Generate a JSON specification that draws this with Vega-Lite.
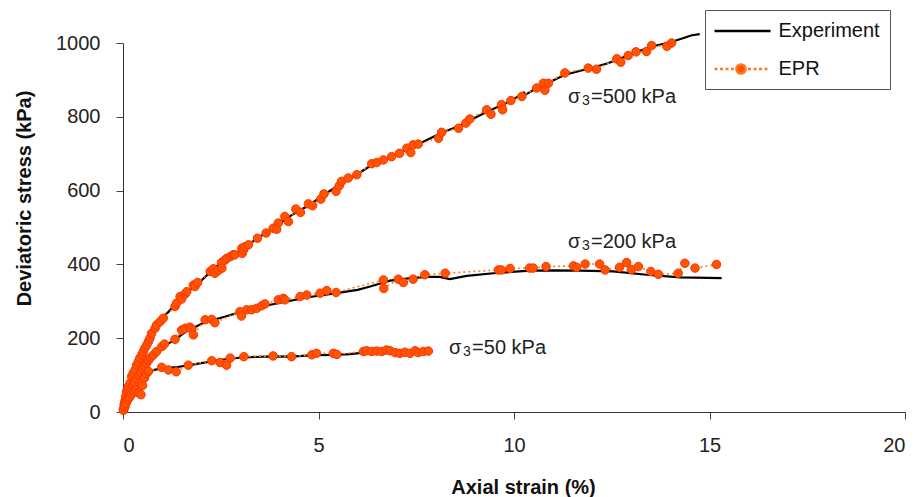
{
  "$schema": "https://vega.github.io/schema/vega-lite/v6.json",
  "width": 782,
  "height": 369,
  "autosize": {"type": "none"},
  "padding": {"left": 123, "top": 43, "right": 14, "bottom": 85},
  "background": "white",
  "config": {
    "view": {"stroke": null},
    "font": "Liberation Sans",
    "axis": {"grid": false, "domainColor": "#333", "tickColor": "#444", "labelColor": "#222", "titleColor": "#111", "labelFont": "Liberation Sans", "titleFont": "Liberation Sans"},
    "legend": {"orient": "none", "strokeColor": "#555", "fillColor": "white", "padding": 9.5, "labelFontSize": 20, "labelFont": "Liberation Sans", "labelColor": "#111", "labelOffset": 41, "symbolSize": 400, "symbolStrokeWidth": 2.5, "symbolOpacity": 1, "rowPadding": 16, "labelExpr": "datum.label + '\u2800\u2800\u2800\u2800'"}
  },
  "datasets": {
    "exp": [
      {"c":"500","x":0,"y":0},{"c":"500","x":0.05,"y":20},{"c":"500","x":0.1,"y":42},{"c":"500","x":0.15,"y":62},{"c":"500","x":0.2,"y":82},{"c":"500","x":0.25,"y":100},{"c":"500","x":0.3,"y":116},{"c":"500","x":0.35,"y":130},{"c":"500","x":0.4,"y":143},{"c":"500","x":0.45,"y":155},{"c":"500","x":0.5,"y":166},{"c":"500","x":0.6,"y":185},{"c":"500","x":0.7,"y":205},{"c":"500","x":0.8,"y":226},{"c":"500","x":0.9,"y":242},{"c":"500","x":1.0,"y":254},{"c":"500","x":1.15,"y":270},{"c":"500","x":1.33,"y":290},{"c":"500","x":1.5,"y":308},{"c":"500","x":1.6,"y":322},{"c":"500","x":1.9,"y":346},{"c":"500","x":2.3,"y":386},{"c":"500","x":2.6,"y":412},{"c":"500","x":2.85,"y":428},{"c":"500","x":3.1,"y":446},{"c":"500","x":3.4,"y":468},{"c":"500","x":3.9,"y":503},{"c":"500","x":4.35,"y":536},{"c":"500","x":4.8,"y":563},{"c":"500","x":5.1,"y":586},{"c":"500","x":5.6,"y":620},{"c":"500","x":6.0,"y":645},{"c":"500","x":6.4,"y":672},{"c":"500","x":6.8,"y":690},{"c":"500","x":7.3,"y":713},{"c":"500","x":7.6,"y":728},{"c":"500","x":8.15,"y":757},{"c":"500","x":8.6,"y":775},{"c":"500","x":8.9,"y":792},{"c":"500","x":9.3,"y":813},{"c":"500","x":9.9,"y":842},{"c":"500","x":10.15,"y":858},{"c":"500","x":10.25,"y":866},{"c":"500","x":10.3,"y":860},{"c":"500","x":10.5,"y":873},{"c":"500","x":10.84,"y":890},{"c":"500","x":11.3,"y":914},{"c":"500","x":12.0,"y":933},{"c":"500","x":12.4,"y":945},{"c":"500","x":12.7,"y":957},{"c":"500","x":13.1,"y":974},{"c":"500","x":13.5,"y":990},{"c":"500","x":14.0,"y":1002},{"c":"500","x":14.3,"y":1012},{"c":"500","x":14.55,"y":1021},{"c":"500","x":14.75,"y":1024},
      {"c":"200","x":0,"y":0},{"c":"200","x":0.05,"y":15},{"c":"200","x":0.1,"y":30},{"c":"200","x":0.2,"y":58},{"c":"200","x":0.3,"y":80},{"c":"200","x":0.4,"y":100},{"c":"200","x":0.5,"y":116},{"c":"200","x":0.6,"y":132},{"c":"200","x":0.7,"y":145},{"c":"200","x":0.8,"y":155},{"c":"200","x":1.07,"y":180},{"c":"200","x":1.33,"y":196},{"c":"200","x":1.63,"y":219},{"c":"200","x":2.1,"y":244},{"c":"200","x":2.6,"y":258},{"c":"200","x":3.04,"y":272},{"c":"200","x":3.55,"y":286},{"c":"200","x":4.02,"y":296},{"c":"200","x":4.74,"y":311},{"c":"200","x":5.5,"y":323},{"c":"200","x":6.0,"y":331},{"c":"200","x":6.32,"y":340},{"c":"200","x":6.83,"y":356},{"c":"200","x":7.3,"y":362},{"c":"200","x":7.77,"y":366},{"c":"200","x":8.1,"y":366},{"c":"200","x":8.36,"y":360},{"c":"200","x":8.79,"y":369},{"c":"200","x":9.47,"y":376},{"c":"200","x":10.41,"y":383},{"c":"200","x":11.0,"y":384},{"c":"200","x":11.69,"y":383},{"c":"200","x":12.54,"y":381},{"c":"200","x":13.39,"y":372},{"c":"200","x":14.25,"y":365},{"c":"200","x":15.31,"y":363},
      {"c":"50","x":0,"y":0},{"c":"50","x":0.05,"y":15},{"c":"50","x":0.1,"y":30},{"c":"50","x":0.15,"y":43},{"c":"50","x":0.2,"y":55},{"c":"50","x":0.3,"y":75},{"c":"50","x":0.4,"y":88},{"c":"50","x":0.5,"y":98},{"c":"50","x":0.65,"y":108},{"c":"50","x":0.8,"y":114},{"c":"50","x":1.0,"y":118},{"c":"50","x":1.4,"y":122},{"c":"50","x":1.7,"y":127},{"c":"50","x":2.3,"y":138},{"c":"50","x":2.75,"y":145},{"c":"50","x":3.1,"y":148},{"c":"50","x":3.8,"y":151},{"c":"50","x":4.3,"y":150},{"c":"50","x":4.9,"y":154},{"c":"50","x":5.4,"y":155},{"c":"50","x":5.8,"y":157},{"c":"50","x":6.1,"y":160},{"c":"50","x":6.5,"y":162},{"c":"50","x":7.0,"y":161},{"c":"50","x":7.4,"y":162},{"c":"50","x":7.7,"y":163}
    ],
    "epr": [
      {"c":"500","x":0.01,"y":8},{"c":"500","x":0.03,"y":20},{"c":"500","x":0.05,"y":30},{"c":"500","x":0.07,"y":42},{"c":"500","x":0.09,"y":55},{"c":"500","x":0.12,"y":62},{"c":"500","x":0.14,"y":69},{"c":"500","x":0.18,"y":78},{"c":"500","x":0.22,"y":96},{"c":"500","x":0.26,"y":105},{"c":"500","x":0.31,"y":114},{"c":"500","x":0.35,"y":127},{"c":"500","x":0.39,"y":136},{"c":"500","x":0.43,"y":146},{"c":"500","x":0.48,"y":155},{"c":"500","x":0.52,"y":164},{"c":"500","x":0.56,"y":173},{"c":"500","x":0.61,"y":182},{"c":"500","x":0.65,"y":191},{"c":"500","x":0.69,"y":200},{"c":"500","x":0.73,"y":213},{"c":"500","x":0.82,"y":227},{"c":"500","x":0.86,"y":236},{"c":"500","x":0.95,"y":245},{"c":"500","x":1.03,"y":254},{"c":"500","x":1.33,"y":286},{"c":"500","x":1.37,"y":295},{"c":"500","x":1.46,"y":313},{"c":"500","x":1.5,"y":306},{"c":"500","x":1.59,"y":320},{"c":"500","x":1.63,"y":326},{"c":"500","x":1.8,"y":344},{"c":"500","x":1.84,"y":340},{"c":"500","x":1.91,"y":351},{"c":"500","x":2.23,"y":381},{"c":"500","x":2.31,"y":388},{"c":"500","x":2.35,"y":376},{"c":"500","x":2.44,"y":384},{"c":"500","x":2.52,"y":405},{"c":"500","x":2.53,"y":390},{"c":"500","x":2.61,"y":412},{"c":"500","x":2.65,"y":416},{"c":"500","x":2.74,"y":421},{"c":"500","x":2.82,"y":426},{"c":"500","x":2.86,"y":426},{"c":"500","x":3.04,"y":444},{"c":"500","x":3.05,"y":430},{"c":"500","x":3.08,"y":439},{"c":"500","x":3.12,"y":448},{"c":"500","x":3.21,"y":453},{"c":"500","x":3.44,"y":471},{"c":"500","x":3.66,"y":485},{"c":"500","x":3.84,"y":498},{"c":"500","x":3.93,"y":495},{"c":"500","x":3.97,"y":512},{"c":"500","x":4.14,"y":530},{"c":"500","x":4.23,"y":516},{"c":"500","x":4.42,"y":550},{"c":"500","x":4.54,"y":541},{"c":"500","x":4.74,"y":564},{"c":"500","x":4.85,"y":559},{"c":"500","x":5.06,"y":577},{"c":"500","x":5.14,"y":591},{"c":"500","x":5.45,"y":598},{"c":"500","x":5.53,"y":613},{"c":"500","x":5.59,"y":625},{"c":"500","x":5.76,"y":634},{"c":"500","x":5.98,"y":643},{"c":"500","x":6.36,"y":673},{"c":"500","x":6.49,"y":676},{"c":"500","x":6.66,"y":683},{"c":"500","x":6.87,"y":692},{"c":"500","x":7.07,"y":701},{"c":"500","x":7.26,"y":715},{"c":"500","x":7.36,"y":703},{"c":"500","x":7.42,"y":724},{"c":"500","x":7.55,"y":726},{"c":"500","x":8.07,"y":742},{"c":"500","x":8.15,"y":758},{"c":"500","x":8.58,"y":769},{"c":"500","x":8.77,"y":783},{"c":"500","x":8.87,"y":794},{"c":"500","x":9.3,"y":819},{"c":"500","x":9.41,"y":807},{"c":"500","x":9.68,"y":833},{"c":"500","x":9.71,"y":819},{"c":"500","x":9.92,"y":844},{"c":"500","x":10.2,"y":855},{"c":"500","x":10.58,"y":878},{"c":"500","x":10.75,"y":891},{"c":"500","x":10.79,"y":872},{"c":"500","x":10.88,"y":891},{"c":"500","x":11.3,"y":919},{"c":"500","x":11.9,"y":932},{"c":"500","x":12.11,"y":929},{"c":"500","x":12.63,"y":957},{"c":"500","x":12.73,"y":948},{"c":"500","x":12.92,"y":966},{"c":"500","x":13.12,"y":976},{"c":"500","x":13.39,"y":977},{"c":"500","x":13.52,"y":993},{"c":"500","x":13.91,"y":991},{"c":"500","x":14.03,"y":1000},
      {"c":"200","x":0.02,"y":6},{"c":"200","x":0.05,"y":15},{"c":"200","x":0.1,"y":30},{"c":"200","x":0.15,"y":45},{"c":"200","x":0.2,"y":58},{"c":"200","x":0.25,"y":70},{"c":"200","x":0.3,"y":80},{"c":"200","x":0.35,"y":90},{"c":"200","x":0.4,"y":100},{"c":"200","x":0.45,"y":108},{"c":"200","x":0.5,"y":116},{"c":"200","x":0.55,"y":124},{"c":"200","x":0.6,"y":132},{"c":"200","x":0.65,"y":140},{"c":"200","x":0.7,"y":147},{"c":"200","x":0.78,"y":155},{"c":"200","x":0.86,"y":164},{"c":"200","x":0.99,"y":177},{"c":"200","x":1.06,"y":184},{"c":"200","x":1.33,"y":197},{"c":"200","x":1.5,"y":222},{"c":"200","x":1.59,"y":227},{"c":"200","x":1.71,"y":230},{"c":"200","x":1.76,"y":224},{"c":"200","x":1.8,"y":209},{"c":"200","x":2.1,"y":250},{"c":"200","x":2.27,"y":251},{"c":"200","x":2.35,"y":242},{"c":"200","x":2.99,"y":272},{"c":"200","x":3.03,"y":260},{"c":"200","x":3.16,"y":277},{"c":"200","x":3.29,"y":277},{"c":"200","x":3.42,"y":281},{"c":"200","x":3.55,"y":288},{"c":"200","x":3.63,"y":293},{"c":"200","x":3.97,"y":304},{"c":"200","x":4.1,"y":308},{"c":"200","x":4.14,"y":304},{"c":"200","x":4.53,"y":313},{"c":"200","x":4.7,"y":317},{"c":"200","x":5.04,"y":322},{"c":"200","x":5.21,"y":329},{"c":"200","x":5.45,"y":324},{"c":"200","x":6.66,"y":358},{"c":"200","x":6.67,"y":335},{"c":"200","x":7.04,"y":360},{"c":"200","x":7.17,"y":351},{"c":"200","x":7.42,"y":360},{"c":"200","x":7.72,"y":372},{"c":"200","x":8.24,"y":376},{"c":"200","x":9.6,"y":385},{"c":"200","x":9.68,"y":385},{"c":"200","x":9.9,"y":389},{"c":"200","x":10.4,"y":390},{"c":"200","x":10.49,"y":390},{"c":"200","x":10.82,"y":394},{"c":"200","x":11.52,"y":396},{"c":"200","x":11.6,"y":392},{"c":"200","x":11.82,"y":401},{"c":"200","x":12.19,"y":401},{"c":"200","x":12.33,"y":385},{"c":"200","x":12.7,"y":392},{"c":"200","x":12.88,"y":405},{"c":"200","x":13.0,"y":386},{"c":"200","x":13.18,"y":394},{"c":"200","x":13.5,"y":381},{"c":"200","x":13.69,"y":373},{"c":"200","x":14.2,"y":376},{"c":"200","x":14.37,"y":403},{"c":"200","x":14.63,"y":390},{"c":"200","x":15.18,"y":400},
      {"c":"50","x":0.01,"y":5},{"c":"50","x":0.04,"y":14},{"c":"50","x":0.08,"y":24},{"c":"50","x":0.12,"y":34},{"c":"50","x":0.17,"y":40},{"c":"50","x":0.22,"y":48},{"c":"50","x":0.28,"y":55},{"c":"50","x":0.33,"y":60},{"c":"50","x":0.4,"y":52},{"c":"50","x":0.46,"y":47},{"c":"50","x":0.5,"y":72},{"c":"50","x":0.55,"y":92},{"c":"50","x":0.6,"y":104},{"c":"50","x":0.65,"y":110},{"c":"50","x":0.99,"y":121},{"c":"50","x":1.16,"y":114},{"c":"50","x":1.36,"y":109},{"c":"50","x":1.67,"y":127},{"c":"50","x":2.27,"y":139},{"c":"50","x":2.48,"y":134},{"c":"50","x":2.65,"y":127},{"c":"50","x":2.74,"y":146},{"c":"50","x":3.09,"y":150},{"c":"50","x":3.84,"y":152},{"c":"50","x":4.31,"y":150},{"c":"50","x":4.83,"y":155},{"c":"50","x":4.95,"y":159},{"c":"50","x":5.38,"y":159},{"c":"50","x":5.47,"y":156},{"c":"50","x":6.15,"y":164},{"c":"50","x":6.23,"y":166},{"c":"50","x":6.36,"y":164},{"c":"50","x":6.49,"y":165},{"c":"50","x":6.62,"y":164},{"c":"50","x":6.74,"y":168},{"c":"50","x":6.83,"y":166},{"c":"50","x":6.96,"y":161},{"c":"50","x":7.08,"y":159},{"c":"50","x":7.21,"y":162},{"c":"50","x":7.34,"y":159},{"c":"50","x":7.47,"y":166},{"c":"50","x":7.55,"y":161},{"c":"50","x":7.68,"y":164},{"c":"50","x":7.81,"y":165}
    ],
    "ann": [
      {"t":"=500 kPa","x":11.38,"y":854},
      {"t":"=200 kPa","x":11.38,"y":461},
      {"t":"=50 kPa","x":8.34,"y":174}
    ],
    "leg": [
      {"s":"Experiment","x":0,"y":0},
      {"s":"EPR","x":0,"y":0}
    ]
  },
  "layer": [
    {
      "data": {"name": "exp"},
      "mark": {"type": "line", "color": "black", "strokeWidth": 2.2, "interpolate": "linear"},
      "encoding": {
        "x": {"field": "x", "type": "quantitative", "scale": {"domain": [0, 20], "nice": false},
          "axis": {"values": [0, 5, 10, 15, 20], "title": "Axial strain (%)", "labelFontSize": 20, "tickSize": 7, "labelPadding": 16, "titleFontSize": 20, "titleFontWeight": "bold", "titleX": 400, "titleY": 81, "titleBaseline": "alphabetic"}},
        "y": {"field": "y", "type": "quantitative", "scale": {"domain": [0, 1000], "nice": false},
          "axis": {"values": [0, 200, 400, 600, 800, 1000], "format": "d", "title": "Deviatoric stress (kPa)", "labelFontSize": 20, "tickSize": 7, "labelPadding": 16, "titleFontSize": 20, "titleFontWeight": "bold", "titleX": -93, "titleY": 155, "titleBaseline": "alphabetic", "titleAngle": -90}},
        "detail": {"field": "c"}
      }
    },
    {
      "data": {"name": "epr"},
      "mark": {"type": "line", "color": "#ff7a1a", "strokeWidth": 1.6, "strokeDash": [2, 3]},
      "encoding": {
        "x": {"field": "x", "type": "quantitative"},
        "y": {"field": "y", "type": "quantitative"},
        "detail": {"field": "c"}
      }
    },
    {
      "data": {"name": "epr"},
      "mark": {"type": "point", "shape": "circle", "filled": true, "fill": "#ff5500", "stroke": "#ff3000", "strokeWidth": 1, "size": 72, "opacity": 1},
      "encoding": {
        "x": {"field": "x", "type": "quantitative"},
        "y": {"field": "y", "type": "quantitative"}
      }
    },
    {
      "data": {"name": "ann"},
      "mark": {"type": "text", "align": "left", "baseline": "middle", "fontSize": 20, "font": "Liberation Sans", "color": "#222"},
      "encoding": {
        "x": {"field": "x", "type": "quantitative"},
        "y": {"field": "y", "type": "quantitative"},
        "text": {"value": "σ"}
      }
    },
    {
      "data": {"name": "ann"},
      "mark": {"type": "text", "align": "left", "baseline": "middle", "fontSize": 14, "font": "Liberation Sans", "color": "#222", "dx": 14, "dy": 4},
      "encoding": {
        "x": {"field": "x", "type": "quantitative"},
        "y": {"field": "y", "type": "quantitative"},
        "text": {"value": "3"}
      }
    },
    {
      "data": {"name": "ann"},
      "mark": {"type": "text", "align": "left", "baseline": "middle", "fontSize": 20, "font": "Liberation Sans", "color": "#222", "dx": 23},
      "encoding": {
        "x": {"field": "x", "type": "quantitative"},
        "y": {"field": "y", "type": "quantitative"},
        "text": {"field": "t"}
      }
    },
    {
      "data": {"name": "leg"},
      "mark": {"type": "point", "filled": true, "opacity": 0},
      "encoding": {
        "x": {"field": "x", "type": "quantitative"},
        "y": {"field": "y", "type": "quantitative"},
        "fill": {"field": "s", "type": "nominal",
          "scale": {"domain": ["Experiment", "EPR"], "range": ["#000000", "#ff5500"]},
          "legend": {"title": null, "legendX": 582, "legendY": -33}},
        "stroke": {"field": "s", "type": "nominal",
          "scale": {"domain": ["Experiment", "EPR"], "range": ["#000000", "#ff7a1a"]},
          "legend": {"title": null, "legendX": 582, "legendY": -33}},
        "shape": {"field": "s", "type": "nominal",
          "scale": {"domain": ["Experiment", "EPR"], "range": ["M-1.15,0H4.45", "M-1.15,0H-0.85M-0.6,0H-0.3M-0.05,0H0.25M0.5,0H0.8M2.2,0H2.5M2.75,0H3.05M3.3,0H3.6M3.85,0H4.15M1.96,0A0.46,0.46 0 1,1 1.04,0A0.46,0.46 0 1,1 1.96,0Z"]},
          "legend": {"title": null, "legendX": 582, "legendY": -33}}
      }
    }
  ]
}
